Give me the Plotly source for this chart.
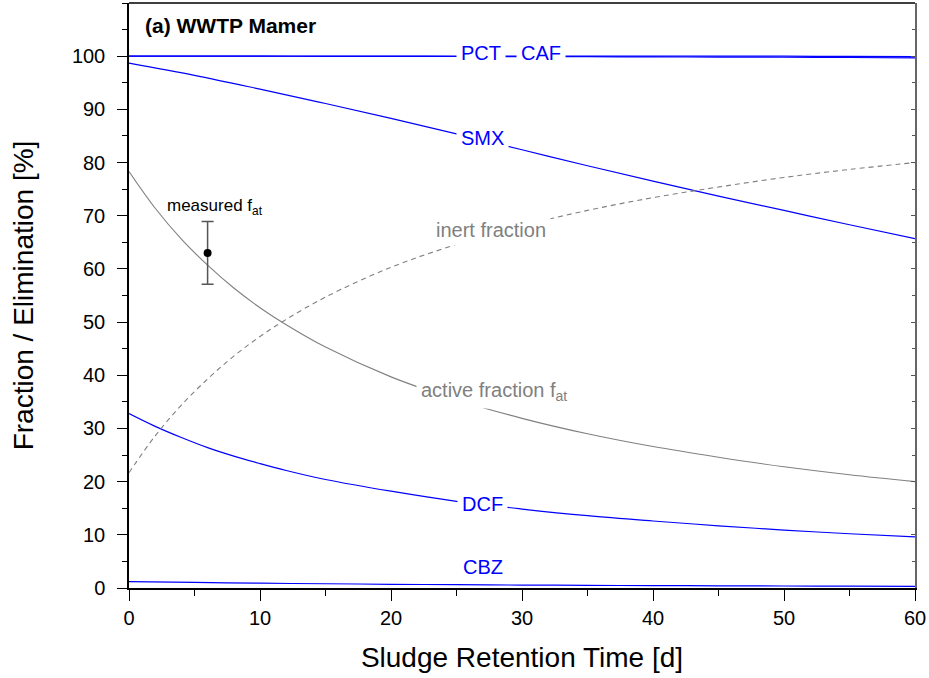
import plotly.graph_objects as go

# ---- data ----
srt = [0, 2, 4, 6, 8, 10, 12, 15, 20, 25, 30, 35, 40, 45, 50, 55, 60]
active_fraction = [78.3, 71.4, 65.6, 60.7, 56.4, 52.7, 49.5, 45.3, 39.7, 35.4, 31.9,
                   29.0, 26.6, 24.6, 22.8, 21.3, 20.0]
inert_fraction = [21.7, 28.6, 34.4, 39.3, 43.6, 47.3, 50.5, 54.7, 60.3, 64.6, 68.1,
                  71.0, 73.4, 75.4, 77.2, 78.7, 80.0]
dcf = [32.8, 30.4, 28.3, 26.4, 24.8, 23.4, 22.1, 20.4, 18.2, 16.3, 14.85,
       13.6, 12.6, 11.7, 10.9, 10.2, 9.6]

srt5 = [0, 5, 10, 15, 20, 25, 30, 35, 40, 45, 50, 55, 60]
smx = [98.7, 96.4, 93.8, 91.1, 88.3, 85.4, 82.4, 79.4, 76.5, 73.7, 71.0, 68.3, 65.7]
pct = [100.0, 100.0, 100.0, 100.0, 100.0, 100.0, 100.0, 100.0, 100.0, 100.0, 100.0, 99.95, 99.9]
caf = [100.0, 100.0, 100.0, 99.98, 99.96, 99.94, 99.92, 99.9, 99.87, 99.83, 99.8, 99.75, 99.7]
cbz = [1.2, 1.05, 0.9, 0.8, 0.7, 0.62, 0.55, 0.5, 0.45, 0.41, 0.38, 0.35, 0.32]

meas_x = [6]
meas_y = [63.0]
meas_err = [5.9]

x_ticks = [0, 10, 20, 30, 40, 50, 60]
y_ticks = [0, 10, 20, 30, 40, 50, 60, 70, 80, 90, 100]

BLUE = "#0000ff"
GRAY = "#808080"
FONT = "Liberation Sans, Arial, sans-serif"

fig = go.Figure()

def blue_line(x, y):
    fig.add_trace(go.Scatter(x=x, y=y, mode="lines", line=dict(color=BLUE, width=1.2, shape="spline"),
                             showlegend=False, hoverinfo="skip"))

blue_line(srt5, pct)
blue_line(srt5, caf)
blue_line(srt5, smx)
blue_line(srt, dcf)
blue_line(srt5, cbz)

fig.add_trace(go.Scatter(x=srt, y=active_fraction, mode="lines",
                         line=dict(color=GRAY, width=1.1, shape="spline"), showlegend=False))
fig.add_trace(go.Scatter(x=srt, y=inert_fraction, mode="lines",
                         line=dict(color=GRAY, width=1.1, dash="5px,4px", shape="spline"), showlegend=False))

fig.add_trace(go.Scatter(x=meas_x, y=meas_y, mode="markers",
                         marker=dict(color="black", size=8),
                         error_y=dict(type="data", array=meas_err, color="#555555", thickness=1.5, width=6),
                         showlegend=False))

# dummy trace for right-hand mirror axis
fig.add_trace(go.Scatter(x=[0], y=[0], mode="markers", marker=dict(opacity=0), yaxis="y2",
                         showlegend=False, hoverinfo="skip"))

def label(x, y, text, color, size=20, bg=True, xanchor="center"):
    fig.add_annotation(x=x, y=y, text=text, showarrow=False, xanchor=xanchor, yanchor="middle",
                       font=dict(family=FONT, size=size, color=color),
                       bgcolor="white" if bg else None, borderpad=4 if bg else 0)

label(26.9, 100.6, "PCT", BLUE)
label(31.45, 100.6, "CAF", BLUE)
label(27.0, 84.7, "SMX", BLUE)
label(27.6, 67.4, "inert fraction", GRAY)
label(27.9, 36.9, "active fraction f<sub>at</sub>", GRAY)
label(27.0, 15.8, "DCF", BLUE)
label(27.0, 3.9, "CBZ", BLUE, bg=False)
label(6.6, 71.6, "measured f<sub>at</sub>", "black", size=17, bg=False)

fig.add_annotation(x=0.018, y=0.985, xref="paper", yref="paper", text="<b>(a) WWTP Mamer</b>",
                   showarrow=False, xanchor="left", yanchor="top",
                   font=dict(family=FONT, size=21, color="black"))

# top border
fig.add_shape(type="line", xref="paper", yref="paper", x0=0, x1=1, y0=1, y1=1,
              line=dict(color="black", width=1.5))

fig.update_layout(
    width=929, height=678,
    margin=dict(l=129, r=12, t=3, b=90),
    plot_bgcolor="white", paper_bgcolor="white",
    font=dict(family=FONT, size=20, color="black"),
    xaxis=dict(range=[0, 60], tickvals=x_ticks, ticks="outside", ticklen=11, tickwidth=1.2,
               tickcolor="black", showline=True, linecolor="black", linewidth=1.5,
               showgrid=False, zeroline=False,
               minor=dict(tickmode="linear", tick0=0, dtick=5, ticks="outside", ticklen=6, tickcolor="black"),
               title=dict(text="Sludge Retention Time [d]", font=dict(size=28), standoff=20),
               tickfont=dict(size=20)),
    yaxis=dict(range=[0, 110], tickvals=y_ticks, ticks="outside", ticklen=10, tickwidth=1.2,
               tickcolor="black", showline=True, linecolor="black", linewidth=1.5,
               showgrid=False, zeroline=False, ticklabelstandoff=8,
               minor=dict(tickmode="linear", tick0=0, dtick=5, ticks="outside", ticklen=5, tickcolor="black"),
               title=dict(text="Fraction / Elimination [%]", font=dict(size=28), standoff=30),
               tickfont=dict(size=20)),
    yaxis2=dict(range=[0, 110], overlaying="y", side="right", tickvals=y_ticks, ticks="inside",
                ticklen=4, tickcolor="#555555", showticklabels=False, showline=True,
                linecolor="#666666", linewidth=2, showgrid=False, zeroline=False,
                minor=dict(tickmode="linear", tick0=0, dtick=5, ticks="inside", ticklen=3, tickcolor="#555555")),
)

fig.write_html("out.html")
